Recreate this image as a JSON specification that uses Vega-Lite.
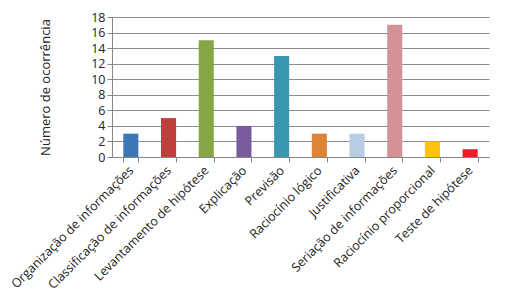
{
  "$schema": "https://vega.github.io/schema/vega-lite/v6.json",
  "width": 377,
  "height": 140,
  "autosize": {"type": "none"},
  "padding": {"left": 112, "top": 17, "right": 22, "bottom": 144},
  "background": "white",
  "config": {
    "view": {"stroke": null},
    "font": "Open Sans"
  },
  "data": {
    "values": [
      {"cat": "Organização de informações", "n": 3, "color": "#3E77B6"},
      {"cat": "Classificação de informações", "n": 5, "color": "#BE3F3C"},
      {"cat": "Levantamento de hipótese", "n": 15, "color": "#86A646"},
      {"cat": "Explicação", "n": 4, "color": "#7A5C9E"},
      {"cat": "Previsão", "n": 13, "color": "#3A97AF"},
      {"cat": "Raciocínio lógico", "n": 3, "color": "#DE8236"},
      {"cat": "Justificativa", "n": 3, "color": "#B8CCE4"},
      {"cat": "Seriação de informações", "n": 17, "color": "#D49296"},
      {"cat": "Raciocínio proporcional", "n": 2, "color": "#FFC20E"},
      {"cat": "Teste de hipótese", "n": 1, "color": "#EE1C25"}
    ]
  },
  "mark": {"type": "bar"},
  "encoding": {
    "x": {
      "field": "cat",
      "type": "nominal",
      "sort": null,
      "scale": {"paddingInner": 0.6, "paddingOuter": 0.3},
      "axis": {
        "title": null,
        "labelAngle": -45,
        "labelAlign": "right",
        "labelBaseline": "middle",
        "labelFontSize": 12.5,
        "labelColor": "#222",
        "labelPadding": 6,
        "tickBand": "extent",
        "tickSize": 5,
        "tickColor": "#868686",
        "domainColor": "#868686",
        "labelLimit": 300
      }
    },
    "y": {
      "field": "n",
      "type": "quantitative",
      "scale": {"domain": [0, 18]},
      "axis": {
        "title": "Número de ocorrência",
        "titleFontSize": 13,
        "titleFontWeight": "normal",
        "titleColor": "#222",
        "titlePadding": 38,
        "values": [0, 2, 4, 6, 8, 10, 12, 14, 16, 18],
        "labelFontSize": 12.5,
        "labelColor": "#222",
        "tickSize": 5,
        "tickColor": "#868686",
        "domainColor": "#868686",
        "gridColor": "#8C8C8C",
        "grid": true
      }
    },
    "color": {"field": "color", "type": "nominal", "scale": null}
  }
}
